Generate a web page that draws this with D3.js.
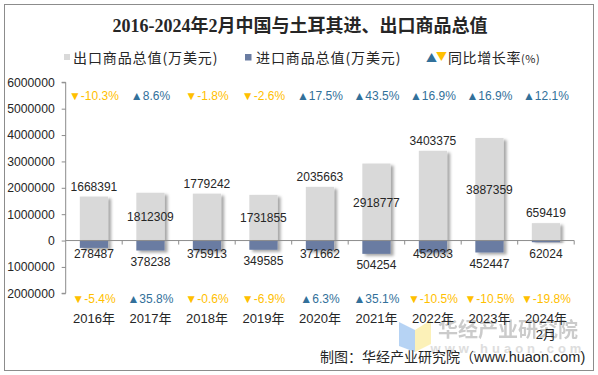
<!DOCTYPE html>
<html><head><meta charset="utf-8">
<script src="https://cdn.jsdelivr.net/npm/d3@7"></script>
<style>
html,body{margin:0;padding:0;background:#fff;}
svg{display:block;}
</style></head>
<body>
<svg id="chart" width="598" height="375"></svg>
<script>
const categories = ["2016年","2017年","2018年","2019年","2020年","2021年","2022年","2023年","2024年|2月"];
const exportValues = [1668391,1812309,1779242,1731855,2035663,2918777,3403375,3887359,659419];
const importValues = [278487,378238,375913,349585,371662,504254,452033,452447,62024];
const exportGrowth = [-10.3,8.6,-1.8,-2.6,17.5,43.5,16.9,16.9,12.1];
const importGrowth = [-5.4,35.8,-0.6,-6.9,6.3,35.1,-10.5,-10.5,-19.8];
const yTickValues = [-2000000,-1000000,0,1000000,2000000,3000000,4000000,5000000,6000000];

const C = {exp:"#D9D9D9", imp:"#6A7CA2", up:"#32709A", down:"#FFC000", text:"#262626", axis:"#8C8C8C"};
const FONT = "'Liberation Sans', Arial, 'Noto Sans CJK SC', sans-serif";
const CJK = "'Noto Sans CJK SC', 'Liberation Sans', sans-serif";

const svg = d3.select("#chart");
const defs = svg.append("defs");
const f = defs.append("filter").attr("id","shadow").attr("x","-20%").attr("y","-20%").attr("width","160%").attr("height","160%");
f.append("feDropShadow").attr("dx",3).attr("dy",2).attr("stdDeviation",1.6).attr("flood-color","#000").attr("flood-opacity",0.35);

// border
svg.append("rect").attr("x",4.5).attr("y",4.5).attr("width",589).attr("height",366)
  .attr("fill","#fff").attr("stroke","#8C8C8C").attr("stroke-width",1);

const x = d3.scaleBand().domain(categories).range([65.7,574.2]).paddingInner(0.5).paddingOuter(0.25);
const band = d3.scaleBand().domain(categories).range([65.7,574.2]);
const y = d3.scaleLinear().domain([-2000000,6000000]).range([293.3,82.3]);

// watermark
const wm = svg.append("g");
wm.append("path").attr("d","M399,322 L415,330 L415,352 L399,346 Z").attr("fill","#A9CBF2").attr("opacity",0.85);
wm.append("path").attr("d","M415,330 L431,320 L431,344 L415,352 Z").attr("fill","#FCEFB0").attr("opacity",0.9);
wm.append("text").attr("x",508).attr("y",337).attr("text-anchor","middle")
  .style("font-family",CJK).style("font-weight","bold").style("font-size","20px")
  .attr("fill","#BFBFBF").attr("opacity",0.8).text("华经产业研究院");
wm.append("text").attr("x",508).attr("y",353).attr("text-anchor","middle")
  .style("font-family",FONT).style("font-weight","bold").style("font-size","13px")
  .style("letter-spacing","4px").attr("fill","#DDDDDD").text("www.huaon.com");

// title
svg.append("text").attr("x",300).attr("y",32).attr("text-anchor","middle")
  .style("font-family","'Liberation Serif', 'Noto Sans CJK SC', serif").style("font-weight","bold")
  .style("font-size","18px").attr("fill","#262626")
  .text("2016-2024年2月中国与土耳其进、出口商品总值");

// legend
const lg = svg.append("g").style("font-family",CJK).style("font-size","14px").attr("fill","#262626");
lg.append("rect").attr("x",64).attr("y",54).attr("width",6).attr("height",6).attr("fill",C.exp);
lg.append("text").attr("x",73).attr("y",63).style("letter-spacing","0.9px").text("出口商品总值(万美元)");
lg.append("rect").attr("x",245).attr("y",54).attr("width",6.5).attr("height",6.5).attr("fill",C.imp);
lg.append("text").attr("x",256).attr("y",63).style("letter-spacing","0.9px").text("进口商品总值(万美元)");
lg.append("text").attr("x",426).attr("y",62).style("font-size","11px").attr("fill",C.up).text("▲");
lg.append("text").attr("x",436).attr("y",61).style("font-size","11px").attr("fill",C.down).text("▼");
const t3 = lg.append("text").attr("x",448).attr("y",63).style("letter-spacing","0.6px");
t3.append("tspan").text("同比增长率");
t3.append("tspan").style("font-size","11px").text("(%)");

// y axis
const yAxis = d3.axisLeft(y).tickValues(yTickValues).tickSize(4).tickPadding(7)
  .tickFormat(d => d3.format("d")(Math.abs(d)));
const ya = svg.append("g").attr("transform","translate(65.7,0)").call(yAxis);
ya.select(".domain").attr("stroke",C.axis).attr("d","M-4,293.3H0V82.3H-4");
ya.selectAll(".tick line").attr("stroke",C.axis);
ya.selectAll(".tick text").attr("fill",C.text).style("font-family",FONT).style("font-size","12.2px");

// bars
const gb = svg.append("g");
gb.selectAll(".exp").data(exportValues).join("rect").attr("class","exp")
  .attr("x",(d,i)=>x(categories[i])).attr("width",x.bandwidth())
  .attr("y",d=>y(d)).attr("height",d=>y(0)-y(d)).attr("fill",C.exp).attr("filter","url(#shadow)");
gb.selectAll(".imp").data(importValues).join("rect").attr("class","imp")
  .attr("x",(d,i)=>x(categories[i])).attr("width",x.bandwidth())
  .attr("y",y(0)).attr("height",d=>y(-d)-y(0)).attr("fill",C.imp).attr("filter","url(#shadow)");

// x axis
const xa = svg.append("g");
xa.append("line").attr("x1",65.7).attr("x2",574.2).attr("y1",y(0)).attr("y2",y(0)).attr("stroke",C.axis);
xa.selectAll(".xt").data(categories).join("line").attr("class","xt")
  .attr("x1",d=>band(d)+band.bandwidth()).attr("x2",d=>band(d)+band.bandwidth())
  .attr("y1",y(0)).attr("y2",y(0)+4).attr("stroke",C.axis);

const cx = i => band(categories[i]) + band.bandwidth()/2;

// data labels
const lab = svg.append("g").style("font-family",FONT).style("font-size","12px").attr("fill",C.text).attr("text-anchor","middle");
lab.selectAll(".el").data(exportValues).join("text").attr("class","el")
  .attr("x",(d,i)=>cx(i))
  .attr("y",(d,i)=> i%2===0 ? y(d)-6 : (y(d)+y(0))/2+4.5)
  .text(d=>d);
lab.selectAll(".il").data(importValues).join("text").attr("class","il")
  .attr("x",(d,i)=>cx(i))
  .attr("y",(d,i)=> i%2===0 ? y(0)+17.5 : y(-d)+15.5)
  .text(d=>d);

// growth labels
function growth(sel, data, yy){
  sel.selectAll("text").data(data).join("text")
    .attr("x",(d,i)=>cx(i)).attr("y",yy).attr("text-anchor","middle")
    .style("font-family",FONT).style("font-size","12px")
    .attr("fill",d=>d<0?C.down:C.up)
    .text(d=>(d<0?"▼":"▲")+d.toFixed(1)+"%");
}
growth(svg.append("g"), exportGrowth, 100);
growth(svg.append("g"), importGrowth, 303);

// category labels
const cl = svg.append("g").style("font-family",FONT).style("font-size","13px").attr("fill",C.text).attr("text-anchor","middle");
categories.forEach((c,i)=>{
  c.split("|").forEach((line,j)=>{
    cl.append("text").attr("x",cx(i)).attr("y",323+j*16).text(line);
  });
});

// footer
const ft = svg.append("text").attr("x",320).attr("y",362)
  .style("font-family",CJK).style("font-size","14px").attr("fill","#262626");
ft.append("tspan").text("制图：华经产业研究院（");
ft.append("tspan").style("font-family",FONT).style("font-size","14.5px").text("www.huaon.com)");
</script>
</body></html>
